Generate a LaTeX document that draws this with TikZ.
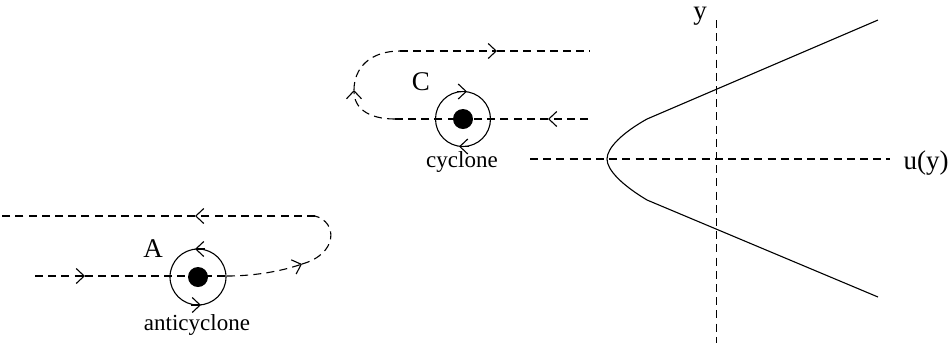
\documentclass[tikz,border=0pt]{standalone}
\usepackage{fontspec}
\setmainfont{Liberation Serif}
\usetikzlibrary{arrows.meta}
\begin{document}
\begin{tikzpicture}[x=0.5pt,y=-0.5pt,
  dsh/.style={line width=0.55pt, dash pattern=on 4pt off 2.6pt},
  sld/.style={line width=0.55pt},
  tip/.style={-{Straight Barb[length=4pt,width=7.5pt]}},
  lbl/.style={font=\fontsize{11.5pt}{13pt}\selectfont, inner sep=0pt},
  big/.style={font=\fontsize{13.5pt}{15pt}\selectfont, inner sep=0pt}]
\useasboundingbox (0,0) rectangle (950,350);

% ---------- anticyclone ----------
\coordinate (a0) at (35,276);
\coordinate (a1) at (85,276);
\coordinate (a2) at (227,276);
\coordinate (a3) at (302,264);
\coordinate (a4) at (315,216);
\coordinate (a5) at (195,216);
\coordinate (a6) at (0,216);
\draw[dsh,tip] (a0) -- (a1);
\draw[dsh] (a1) -- (a2);
\draw[dsh,tip] (a2) .. controls (255,276) and (282,271) .. (a3);
\draw[dsh] (a3) .. controls (338,254) and (338,222) .. (a4);
\draw[dsh,tip] (a4) -- (a5);
\draw[dsh] (a5) -- (a6);
\node[sld,draw,circle,minimum size=28pt,inner sep=0pt] (acirc) at (198,277) {};
\fill (acirc.center) circle (10);
\draw[sld,tip] (205,249) -- (195,249);
\draw[sld,tip] (191,305) -- (201,305);
\node[big] (Alab) at (153,249) {A};
\node[lbl] (alab) at (197,325) {anticyclone};

% ---------- cyclone ----------
\coordinate (c0) at (588,119);
\coordinate (c1) at (548,119);
\coordinate (c2) at (395,119);
\coordinate (c3) at (354,90);
\coordinate (c4) at (400,51);
\coordinate (c5) at (497,51);
\coordinate (c6) at (590,51);
\draw[dsh,tip] (c0) -- (c1);
\draw[dsh] (c1) -- (c2);
\draw[dsh,tip] (c2) .. controls (368,119) and (354,108) .. (c3);
\draw[dsh] (c3) .. controls (354,68) and (370,51) .. (c4);
\draw[dsh,tip] (c4) -- (c5);
\draw[dsh] (c5) -- (c6);
\node[sld,draw,circle,minimum size=27.5pt,inner sep=0pt] (ccirc) at (463,119) {};
\fill (ccirc.center) circle (10);
\draw[sld,tip] (457,91.5) -- (467,91.5);
\draw[sld,tip] (469,146.5) -- (459,146.5);
\node[big] (Clab) at (421,82) {C};
\node[lbl] (clab) at (462,162) {cyclone};

% ---------- profile ----------
\coordinate (vt) at (716.5,20);
\coordinate (vb) at (716.5,343);
\coordinate (hl) at (530,159);
\coordinate (hr) at (890,159);
\draw[dsh] (vt) -- (vb);
\draw[dsh] (hl) -- (hr);
\node[big] (ylab) at (700,16) {y};
\node[big] (ulab) at (926,163) {u(y)};
\coordinate (p1) at (878,20);
\coordinate (p2) at (647,119);
\coordinate (p3) at (607,159);
\coordinate (p4) at (647,200);
\coordinate (p5) at (878,297);
\draw[sld] (p1) -- (p2) .. controls (622,133) and (607,148) .. (p3)
  .. controls (607,170) and (622,185) .. (p4) -- (p5);
\end{tikzpicture}
\end{document}
